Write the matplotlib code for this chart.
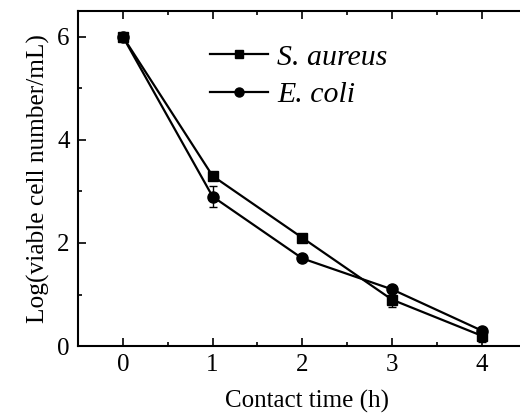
import matplotlib.pyplot as plt
from matplotlib.ticker import MultipleLocator
from matplotlib.lines import Line2D

plt.rcParams['font.family'] = ['Liberation Serif', 'DejaVu Serif']

time_h = [0, 1, 2, 3, 4]
s_aureus = [6.0, 3.3, 2.1, 0.9, 0.2]
s_aureus_err = [0.05, 0.05, 0.05, 0.15, 0.12]
e_coli = [6.0, 2.9, 1.7, 1.1, 0.3]
e_coli_err = [0.05, 0.2, 0.05, 0.05, 0.05]
labels = ['S. aureus', 'E. coli']

fig = plt.figure(figsize=(5.2, 4.2), dpi=100)
ax = fig.add_axes([0.15, 0.176, 0.88, 0.798])

ax.errorbar(time_h, s_aureus, yerr=s_aureus_err, color='black', marker='s',
            markersize=7, linewidth=1.6, capsize=3, elinewidth=1)
ax.errorbar(time_h, e_coli, yerr=e_coli_err, color='black', marker='o',
            markersize=8, linewidth=1.6, capsize=3, elinewidth=1)

ax.set_xlim(-0.5, 4.6)
ax.set_ylim(0, 6.5)
ax.xaxis.set_major_locator(MultipleLocator(1))
ax.xaxis.set_minor_locator(MultipleLocator(0.5))
ax.yaxis.set_major_locator(MultipleLocator(2))
ax.yaxis.set_minor_locator(MultipleLocator(1))
ax.tick_params(which='both', direction='in', top=True, right=False, labelsize=18, width=1.2)
ax.tick_params(which='major', length=6, pad=6)
ax.tick_params(which='minor', length=3)
for s in ax.spines.values():
    s.set_linewidth(1.5)
ax.spines['right'].set_visible(False)  # the frame runs off the right edge

ax.set_xlabel('Contact time (h)', fontsize=18, labelpad=10)
ax.set_ylabel('Log(viable cell number/mL)', fontsize=18.3, labelpad=5)

handles = [Line2D([], [], color='black', marker='s', markersize=6, linewidth=1.6),
           Line2D([], [], color='black', marker='o', markersize=6.5, linewidth=1.6)]
ax.legend(handles, labels, loc='upper left', bbox_to_anchor=(210 / 520, 1 - 44 / 420),
          bbox_transform=fig.transFigure, frameon=False, borderpad=0, borderaxespad=0,
          prop={'family': 'Liberation Serif', 'style': 'italic', 'size': 21.5},
          handlelength=1.95, handletextpad=0.3, labelspacing=0.35)

plt.savefig('out.png', dpi=100)
plt.close()
